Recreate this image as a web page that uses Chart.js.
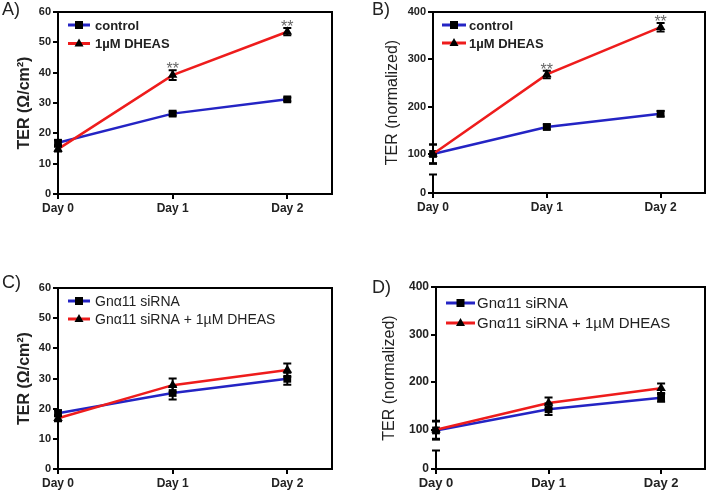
<!DOCTYPE html>
<html>
<head>
<meta charset="utf-8">
<script src="https://cdn.jsdelivr.net/npm/chart.js@4.4.1/dist/chart.umd.min.js"></script>
<style>
  body { margin: 0; background: #fff; }
  #fig { position: relative; width: 711px; height: 492px; font-family: 'Liberation Sans', Arial, sans-serif; }
  #fig canvas { position: absolute; }
  .lbl { position: absolute; font-size: 18px; line-height: 18px; color: #222; }
</style>
</head>
<body>
<div id="fig">
  <canvas id="chartA" width="355" height="246" style="left:0;top:0"></canvas>
  <canvas id="chartB" width="356" height="246" style="left:355px;top:0"></canvas>
  <canvas id="chartC" width="355" height="246" style="left:0;top:246px"></canvas>
  <canvas id="chartD" width="356" height="246" style="left:355px;top:246px"></canvas>
  <span class="lbl" style="left:2px;top:0">A)</span>
  <span class="lbl" style="left:372px;top:0">B)</span>
  <span class="lbl" style="left:2px;top:273px">C)</span>
  <span class="lbl" style="left:372px;top:278px">D)</span>
</div>
<script>
const days = ['Day 0', 'Day 1', 'Day 2'];
const dayIndex = [0, 1, 2];
const ticksOhm = [0, 10, 20, 30, 40, 50, 60];
const ticksNorm = [100, 200, 300, 400];
const ticksLow = [0];

// A) TER in ohm/cm2
const controlA = [16.9, 26.5, 31.2];
const controlAErr = [0.8, 0.6, 0.6];
const dheasA = [14.8, 39.2, 53.5];
const dheasAErr = [0.8, 1.6, 1.2];
const starsA = [false, true, true];

// B) TER normalized
const controlB = [100, 157, 185];
const controlBErr = [20, 5, 6];
const dheasB = [100, 268, 368];
const dheasBErr = [20, 8, 9];
const starsB = [false, true, true];

// C) siRNA, ohm/cm2
const sirnaC = [18.5, 25.2, 29.9];
const sirnaCErr = [1.0, 2.2, 2.0];
const sirnaDheasC = [16.8, 27.8, 32.8];
const sirnaDheasCErr = [1.0, 2.2, 2.2];

// D) siRNA, normalized
const sirnaD = [98.5, 143, 167];
const sirnaDErr = [19, 12, 8];
const sirnaDheasD = [100, 156, 187];
const sirnaDheasDErr = [19, 12, 10];

const noStars = [false, false, false];
const FONT = "'Liberation Sans', Arial, sans-serif";
const BLUE = '#2424c4';
const RED = '#ee1c1c';

const series = (values) => values.map((v, i) => ({ x: dayIndex[i], y: v }));

const lineSet = (label, values, errors, stars, color, style, order, axis) => ({
  label: label,
  data: series(values),
  errors: errors,
  stars: stars,
  borderColor: color,
  backgroundColor: color,
  borderWidth: 2.5,
  pointStyle: style,
  pointRadius: 5.5,
  pointBackgroundColor: '#000',
  pointBorderColor: '#000',
  pointBorderWidth: 0,
  yAxisID: axis,
  order: order,
  clip: false
});

// error bars, stars, frame, broken axis, legend and y title
const decor = {
  id: 'decor',
  afterDatasetsDraw(chart) {
    const ctx = chart.ctx;
    const xs = chart.scales.x;
    chart.data.datasets.forEach(ds => {
      const ys = chart.scales[ds.yAxisID];
      ds.data.forEach((p, i) => {
        const e = ds.errors[i];
        const px = xs.getPixelForValue(p.x);
        const top = ys.getPixelForValue(p.y + e);
        const bot = ys.getPixelForValue(p.y - e);
        ctx.save();
        ctx.strokeStyle = '#000';
        ctx.lineWidth = 2;
        ctx.beginPath();
        ctx.moveTo(px, top); ctx.lineTo(px, bot);
        ctx.moveTo(px - 4, top); ctx.lineTo(px + 4, top);
        ctx.moveTo(px - 4, bot); ctx.lineTo(px + 4, bot);
        ctx.stroke();
        if (ds.stars[i]) {
          ctx.fillStyle = '#666';
          ctx.font = '16px ' + FONT;
          ctx.textAlign = 'center';
          ctx.textBaseline = 'alphabetic';
          ctx.fillText('**', px, top + 4);
        }
        ctx.restore();
      });
    });
  },
  afterDraw(chart, args, opts) {
    const ctx = chart.ctx;
    const a = chart.chartArea;
    ctx.save();
    ctx.strokeStyle = '#000';
    ctx.lineWidth = 2;
    ctx.beginPath();
    ctx.moveTo(a.left - 1, a.top); ctx.lineTo(a.right, a.top); ctx.lineTo(a.right, a.bottom);
    ctx.stroke();

    if (opts.broken) {
      const low = chart.scales.y0;
      const up = chart.scales.y;
      const y0 = low.getPixelForValue(0);
      const y50 = low.getPixelForValue(50);
      ctx.beginPath();
      ctx.moveTo(a.left, y0); ctx.lineTo(a.left, y50);
      ctx.moveTo(a.left - 4, y50); ctx.lineTo(a.left + 4, y50);
      ctx.moveTo(a.left - 4, up.bottom); ctx.lineTo(a.left + 4, up.bottom);
      ctx.stroke();
    }

    // legend inside the plot
    chart.data.datasets.forEach((ds, i) => {
      const y = opts.legendY[i];
      const [x0, x1, tx] = opts.legendX;
      ctx.strokeStyle = ds.borderColor;
      ctx.lineWidth = 3;
      ctx.beginPath();
      ctx.moveTo(x0, y); ctx.lineTo(x1, y);
      ctx.stroke();
      const cx = (x0 + x1) / 2;
      ctx.fillStyle = '#000';
      ctx.beginPath();
      if (ds.pointStyle === 'rect') {
        ctx.rect(cx - 4, y - 4, 8, 8);
      } else {
        ctx.moveTo(cx, y - 5); ctx.lineTo(cx + 4.5, y + 3); ctx.lineTo(cx - 4.5, y + 3);
        ctx.closePath();
      }
      ctx.fill();
      ctx.fillStyle = '#222';
      ctx.font = opts.legendFont;
      ctx.textAlign = 'left';
      ctx.textBaseline = 'middle';
      ctx.fillText(ds.label, tx, y + 1);
    });

    // y axis title
    ctx.translate(a.left - opts.titleOffset, (a.top + a.bottom) / 2);
    ctx.rotate(-Math.PI / 2);
    ctx.fillStyle = '#222';
    ctx.font = opts.titleFont;
    ctx.textAlign = 'center';
    ctx.textBaseline = 'middle';
    ctx.fillText(opts.title, 0, 0);
    ctx.restore();
  }
};

const tickStyle = (size) => ({
  font: { family: FONT, size: size, weight: 'bold' },
  color: '#222',
  padding: 2
});

const gridStyle = {
  display: true,
  drawOnChartArea: false,
  drawTicks: true,
  tickLength: 5,
  color: '#000',
  lineWidth: 2
};

const xScale = (height, size) => ({
  type: 'linear',
  min: 0,
  max: 2.39,
  afterBuildTicks: s => { s.ticks = dayIndex.map(v => ({ value: v })); },
  afterFit: s => { s.height = height; },
  ticks: Object.assign(tickStyle(size), { callback: (v, i) => days[i], maxRotation: 0 }),
  grid: gridStyle,
  border: { display: true, color: '#000', width: 2 }
});

const ohmScales = (w, h) => ({
  x: xScale(h, 12),
  y: {
    type: 'linear',
    min: 0,
    max: 60,
    afterBuildTicks: s => { s.ticks = ticksOhm.map(v => ({ value: v })); },
    afterFit: s => { s.width = w; },
    ticks: tickStyle(11),
    grid: gridStyle,
    border: { display: true, color: '#000', width: 2 }
  }
});

// broken axis: upper part 80-400, lower part 0-50
// (left boxes are stacked in reverse order, so the lower axis comes first)
const normScales = (w, h, size) => ({
  x: xScale(h, size + 1),
  y0: {
    type: 'linear',
    min: 0,
    max: 80,
    stack: 'left',
    stackWeight: 29.5,
    afterBuildTicks: s => { s.ticks = ticksLow.map(v => ({ value: v })); },
    afterFit: s => { s.width = w; },
    ticks: tickStyle(size),
    grid: gridStyle,
    border: { display: false }
  },
  y: {
    type: 'linear',
    min: 80,
    max: 400,
    stack: 'left',
    stackWeight: 151,
    afterBuildTicks: s => { s.ticks = ticksNorm.map(v => ({ value: v })); },
    afterFit: s => { s.width = w; },
    ticks: tickStyle(size),
    grid: gridStyle,
    border: { display: true, color: '#000', width: 2 }
  }
});

const makeChart = (id, datasets, scales, padding, decorOpts) => new Chart(document.getElementById(id), {
  type: 'line',
  data: { datasets: datasets },
  options: {
    responsive: false,
    animation: false,
    devicePixelRatio: 1,
    layout: { padding: padding },
    scales: scales,
    plugins: {
      legend: { display: false },
      tooltip: { enabled: false },
      decor: decorOpts
    }
  },
  plugins: [decor]
});

makeChart('chartA', [
  lineSet('control', controlA, controlAErr, noStars, BLUE, 'rect', 1, 'y'),
  lineSet('1µM DHEAS', dheasA, dheasAErr, starsA, RED, 'triangle', 0, 'y')
], ohmScales(58, 52), { top: 12, right: 23, left: 0, bottom: 0 }, {
  legendY: [25, 43.5], legendX: [68, 90, 95],
  legendFont: 'bold 13px ' + FONT,
  title: 'TER (Ω/cm²)', titleFont: 'bold 16px ' + FONT, titleOffset: 33
});

makeChart('chartB', [
  lineSet('control', controlB, controlBErr, noStars, BLUE, 'rect', 1, 'y'),
  lineSet('1µM DHEAS', dheasB, dheasBErr, starsB, RED, 'triangle', 0, 'y')
], normScales(78, 53, 11), { top: 12, right: 6, left: 0, bottom: 0 }, {
  broken: true,
  legendY: [25, 43], legendX: [87, 111, 114],
  legendFont: 'bold 13px ' + FONT,
  title: 'TER (normalized)', titleFont: '16px ' + FONT, titleOffset: 40
});

makeChart('chartC', [
  lineSet('Gnα11 siRNA', sirnaC, sirnaCErr, noStars, BLUE, 'rect', 1, 'y'),
  lineSet('Gnα11 siRNA + 1µM DHEAS', sirnaDheasC, sirnaDheasCErr, noStars, RED, 'triangle', 0, 'y')
], ohmScales(58, 23), { top: 42, right: 23, left: 0, bottom: 0 }, {
  legendY: [55, 73], legendX: [68, 90, 95],
  legendFont: '14px ' + FONT,
  title: 'TER (Ω/cm²)', titleFont: 'bold 16px ' + FONT, titleOffset: 33
});

makeChart('chartD', [
  lineSet('Gnα11 siRNA', sirnaD, sirnaDErr, noStars, BLUE, 'rect', 1, 'y'),
  lineSet('Gnα11 siRNA + 1µM DHEAS', sirnaDheasD, sirnaDheasDErr, noStars, RED, 'triangle', 0, 'y')
], normScales(81, 23, 12), { top: 41, right: 6, left: 0, bottom: 0 }, {
  broken: true,
  legendY: [57, 77], legendX: [91, 120, 122],
  legendFont: '15px ' + FONT,
  title: 'TER (normalized)', titleFont: '16px ' + FONT, titleOffset: 46
});
</script>
</body>
</html>
